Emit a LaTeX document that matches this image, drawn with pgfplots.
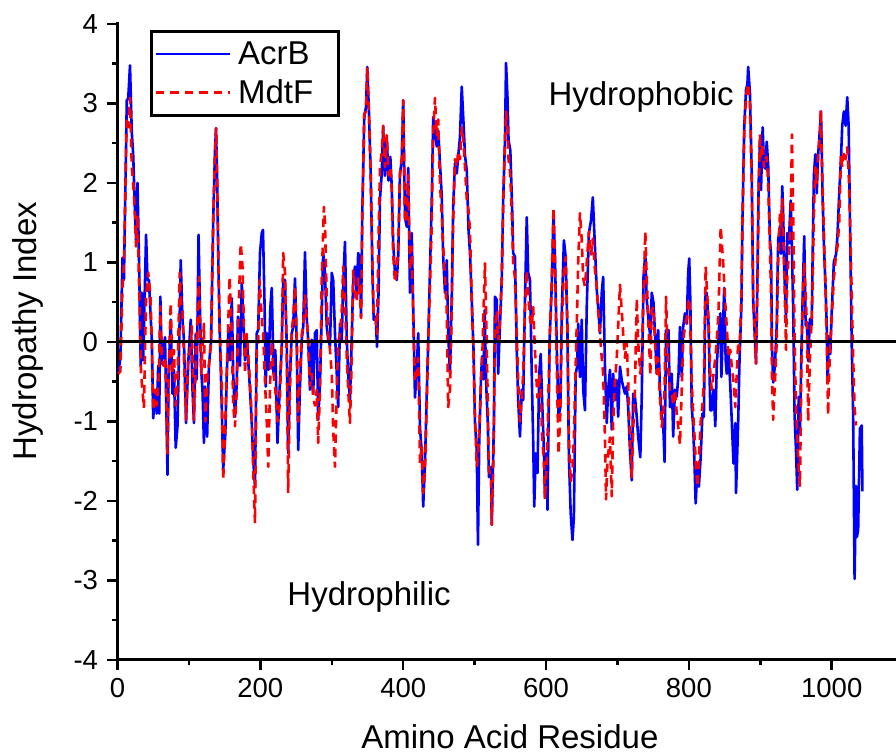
\documentclass[border=0pt]{standalone}
\usepackage{fontspec}
\setmainfont{Liberation Sans}
\usepackage{pgfplots}
\pgfplotsset{compat=1.18}
\begin{document}
\begin{tikzpicture}
\useasboundingbox (-117.5pt,-94pt) rectangle (778.5pt,660pt);
\begin{axis}[
  at={(0pt,0pt)}, anchor=south west,
  scale only axis, width=778.5pt, height=636pt,
  xmin=0, xmax=1090, ymin=-4, ymax=4,
  enlargelimits=false,
  axis x line*=bottom, axis y line*=left,
  axis line style={line width=3pt, line cap=rect},
  xtick={0,200,...,1000}, ytick={-4,-3,...,4},
  minor x tick num=1, minor y tick num=1,
  tick align=outside,
  major tick length=10pt, minor tick length=5pt,
  every tick/.style={black, line width=2.5pt},
  /pgf/number format/assume math mode=true,
  /pgf/number format/1000 sep={},
  tick label style={font=\fontsize{27.5}{32}\selectfont},
  xticklabel style={yshift=-5pt},
  yticklabel style={xshift=-6pt},
  label style={font=\fontsize{33}{40}\selectfont},
  xlabel={Amino Acid Residue},
  ylabel={Hydropathy Index},
  xlabel style={at={(axis description cs:0.504,-0.139)}, anchor=base},
  ylabel style={at={(axis description cs:-0.115,0.517)}, anchor=center},
  legend style={at={(axis description cs:0.0417,0.99)}, anchor=north west,
    draw=black, line width=3pt, font=\fontsize{33}{40}\selectfont,
    inner xsep=3pt, inner ysep=8pt, row sep=10pt, column sep=5pt,
    nodes={inner sep=2pt}},
  legend cell align=left,
  legend image code/.code={\draw[#1] (0pt,0pt) -- (74pt,0pt);},
]
\addplot[blue, line width=2.6pt, line join=round] table[x=x,y=y] {
x y
1 -0.40
4 -0.20
7 1.06
9 0.78
13 3.04
15 3.06
17.5 3.48
20 2.64
22 2.35
24.5 1.62
26 1.28
28 2.00
30.5 0.87
32.5 -0.31
34 0.62
36 -0.23
40 1.35
42 0.78
44 0.78
48 0.03
50 -0.96
52.5 -0.65
55 -0.90
57 -0.30
58.5 -0.90
60 0.57
62 -0.27
64.5 -0.10
66.5 0.06
68 -0.65
70 -1.67
71.5 -0.40
74.5 0.28
77 -0.65
79 -0.35
81.5 -1.33
84 -1.06
86.5 0.03
88.5 1.03
91 0.28
93 0.03
96 -1.02
99 -0.27
102.5 0.28
105 -0.60
107 -1.02
109.5 0.10
111 -0.47
113.5 1.35
115 0.62
117.5 -0.40
119 -0.60
121 -1.27
122.5 -0.56
125.5 -1.19
128 -0.30
131 0.01
134 1.53
136.5 2.41
138 2.69
139.5 2.03
141.5 0.85
143 0.18
146 -0.82
148 -1.61
151 -1.15
153 -0.40
155.5 0.18
157.5 -0.23
160 0.55
162 -0.40
164.5 -0.94
167 -0.52
168.5 0.32
171.5 -0.30
174 0.74
176 0.32
178.5 -0.23
181 0.06
183 -0.23
185.5 -0.60
188 -1.02
190 -1.48
192.5 -1.82
195 0.11
197 0.15
199.5 1.12
202 1.37
203.7 1.41
206 0.43
207.5 -0.56
209.5 0.11
211.5 -0.35
214 0.43
216 0.68
218.5 -0.40
221 -0.10
224 -1.27
227 -0.60
230 -0.05
232 0.78
234.5 0.78
237 -0.05
239 -1.40
241.5 -0.40
244 0.11
246 0.19
248.5 0.80
251 -0.05
253 -1.36
255.5 -0.56
258 0.03
260 0.19
262.5 1.13
265 0.28
267 0.03
269.5 -0.60
272 0.03
274 -0.65
276.5 0.11
279 0.15
281 -0.98
283.5 -0.52
286 0.36
288 1.12
290.5 0.87
293 0.19
295 0.03
297.5 -0.05
300 0.87
302 0.78
304.5 0.11
307 -0.40
309 -0.82
311.5 0.23
314 0.03
316 0.74
318.5 1.26
321 0.03
323 -0.40
325.5 -0.73
328 0.06
330 0.78
332.5 0.95
335 0.62
337 1.12
339.5 1.03
341 0.32
342.7 1.62
345.5 2.83
348 2.96
349.7 3.46
352 2.92
354.5 2.12
357 0.87
358.7 0.28
361.5 0.32
363.3 -0.06
365.5 0.62
367.5 1.80
370 2.12
372 2.71
374.5 2.09
377 2.58
379.5 2.03
382 2.33
384 1.95
386 1.24
388.5 0.87
391 0.78
393 1.07
395.5 2.12
398 2.28
400 3.04
402.5 1.57
405 1.45
407 2.19
409.5 0.62
412 1.37
414 0.44
416.5 -0.70
419 -0.35
421 0.11
423.5 -1.07
426 -1.40
428 -2.07
430.5 -1.53
433 -0.65
435 -0.02
437.5 0.90
440 1.79
442 2.83
444.5 2.62
447 2.46
449 2.66
451.5 2.25
454 1.83
456 1.07
458.5 0.62
461 1.03
463 0.11
465.5 -0.40
468 0.57
470 1.70
472.5 2.25
475 2.12
477 2.33
479.5 2.58
482 3.21
484.5 2.75
486.5 2.35
489 2.16
491.5 1.41
493.5 1.12
496 0.53
498.5 -0.10
500.5 -1.02
503 -1.36
504.7 -2.55
506.5 -1.23
509 -0.44
510.5 -0.18
512.5 -0.47
514 0.40
516.5 -0.60
518.5 -1.02
520 -1.70
523 -1.57
524 -2.30
527 -1.02
528.5 0.57
531 0.53
533 -0.40
534.5 -0.02
538 0.78
540 1.79
542.5 2.54
544 3.51
546 3.08
547.5 2.54
550 2.41
552.5 1.70
554 1.12
556.5 1.07
559 -0.10
561 -0.73
563.5 -1.19
566 -0.60
568 -0.73
570.5 0.53
573 1.57
575 0.87
577.5 0.78
580 -0.40
582 -1.23
583.5 -2.07
585.5 -1.40
588 -1.65
590.5 -0.40
592.5 -0.15
594.5 -0.73
597 -1.36
598.5 -1.95
601 -1.40
602 -2.11
605 0.03
608 0.70
610.5 1.62
612.5 1.07
615 -0.05
617.5 -0.94
620 -0.82
622 0.36
625 1.28
627.5 1.07
630 0.11
632 -1.45
634.5 -2.15
637 -2.49
639 -2.20
641.5 -0.40
643.5 -0.31
645 0.23
647.5 -0.44
650 0.28
652 -0.60
654.5 -0.86
657 0.44
660 1.37
663 1.53
665.5 1.82
668.5 1.19
671 0.66
673 0.44
675.5 0.11
678 0.62
680 0.82
682.5 -0.31
685 -1.02
687 -0.60
689.5 -0.35
692 -1.10
694 -0.40
696.5 -0.73
699 -0.48
701 -0.94
703.5 -0.31
706 -0.48
708 -0.56
710.5 -0.65
713 -0.56
715 -0.82
717.5 -1.36
720 -1.74
722 -0.65
724.5 -0.69
727 -0.94
729 -1.19
732 -1.45
734 -0.69
736.5 0.82
739 1.11
741 0.53
743.5 0.28
746 0.06
748 0.62
750.5 0.49
752.5 0.11
755 -0.40
757 0.15
759.5 -0.60
762 -0.94
764 -1.02
766 -1.51
768 0.15
769.5 -0.05
771.5 0.15
773.5 -0.82
776 -0.40
778 -1.19
780.5 -0.60
783 -0.69
785.5 -0.40
787.5 0.19
790 -0.44
792 0.19
794.5 0.36
797 0.23
799 0.87
800.5 1.05
802 0.53
804 -0.82
806 -1.06
808 -1.57
809.5 -2.03
812 -1.57
814 -1.82
816.5 -1.45
819 -0.90
821 -0.94
823 0.57
825 0.62
827.5 0.23
830 -0.86
832 -0.86
834.5 -0.60
837 -1.06
839 -0.31
841.5 0.11
844 0.36
845.5 -0.44
847.5 0.11
849.5 0.68
851.5 -0.23
853 -0.40
855.5 -0.10
858 -0.56
860 -0.98
862.5 -1.53
865 -1.02
866 -1.90
869 -1.02
871 -0.18
873.5 0.44
875 1.53
877.5 2.71
880 3.17
882 3.25
883 3.46
885.5 3.13
888 2.12
890 0.53
892.5 0.03
894 -0.27
896 0.82
897.7 2.00
899.5 2.54
901 1.91
903.3 2.70
905 2.27
907 2.18
909 2.52
911 2.23
913.5 1.28
915 1.11
916.3 -0.02
918 -0.51
920.5 -0.29
923 0.21
925 1.28
927.5 1.46
929 1.11
930.7 1.96
932 1.64
933.5 0.92
936 0.29
937.7 1.37
940 1.24
942.5 1.78
944.3 1.15
946 0.43
948 -0.92
950 -1.37
951.7 -1.86
953.7 -0.69
955.5 -1.14
957.3 -0.24
959.3 0.57
961.5 1.33
963.5 0.21
965.3 0.25
967 -0.24
969.5 0.29
972 0.21
973.3 1.10
975 2.09
977 2.36
979 1.87
981 2.36
983.5 2.68
985 2.90
987.3 1.78
989 1.24
991.5 0.65
993 0.21
994.3 -0.51
996 0.07
998 -0.15
1000 0.38
1003 1.01
1006 1.10
1008 1.33
1010.5 1.87
1013 2.32
1014.7 2.72
1017 2.90
1019.5 2.72
1021.7 3.08
1023.7 2.72
1025.5 1.55
1028 -0.02
1030 -0.92
1032 -2.98
1034 -1.81
1035.3 -2.45
1037 -2.36
1039.5 -1.09
1042 -1.05
1043 -1.88
};
\addlegendentry{\makebox[95pt][l]{AcrB}}
\addplot[red, line width=2.6pt, line join=round, dash pattern=on 8.5pt off 6pt] table[x=x,y=y] {
x y
1 -0.40
4 -0.37
7 0.70
9 1.00
13 2.80
15 2.70
17.5 3.07
20 2.20
22 2.00
24.5 1.60
26 1.20
28 1.60
30.5 0.60
33 -0.40
37 -0.83
40 0.57
43 0.87
46 0.60
48 0.03
50 -0.86
53 -0.60
55 -0.80
58 -0.40
60 0.45
62 -0.20
64.5 -0.30
67 -0.20
70 -1.40
72 -0.30
74.5 0.49
77 -0.40
79 -0.10
81.5 -0.80
84 -0.55
87 0.87
89 0.50
91 0.40
93 -0.20
96 -0.98
99 -0.20
102 -0.10
104 0.20
107 -0.98
110 -0.20
114 0.82
117 -0.40
121 0.23
123 -1.00
126 -0.40
128 -0.30
131 0.01
134 1.50
136.5 2.40
138 2.69
139.5 2.10
141.5 0.90
143 0.18
146 -0.55
148 -1.74
151 -1.00
153 -0.40
157 0.82
160 0.10
162 -0.80
164.5 -1.06
167 -0.60
168.5 0.10
172.5 1.24
175 0.95
178.5 -0.40
181 0.10
183 -0.15
185.5 -0.50
188 -0.95
190 -1.60
192.5 -2.28
195 -0.10
197 0.00
199 0.78
202 0.30
204 0.10
207 -0.60
209.5 -1.10
211 -1.57
214 -0.40
216 0.00
218.5 -0.40
221 -0.60
224 -1.00
227 -0.80
230 0.00
232 1.12
234.5 0.87
237 -0.20
239 -1.90
241.5 -0.60
244 0.15
246 0.30
248.5 0.70
251 0.10
253 -1.00
255.5 -0.40
258 0.10
260 0.20
262.5 0.60
265 0.30
267 0.00
269.5 -0.55
272 -0.40
274 -0.70
276.5 -0.80
279 -0.60
281 -1.27
283.5 -0.60
286 0.80
289 1.70
290.5 1.50
293 0.50
295 0.10
297.5 -0.10
300 -0.40
302 -1.10
304.5 -1.57
307 -0.60
309 0.00
311.5 0.10
314 0.40
316 0.95
318.5 0.50
321 -0.20
323 -0.60
325.5 -1.02
328 -0.20
330 0.91
332.5 0.60
335 0.50
337 0.80
339.5 0.60
341 0.30
342.7 1.50
345.5 2.87
348 2.90
349.7 3.46
352 2.90
354.5 2.12
357 0.90
358.7 0.32
361.5 0.30
363.3 0.10
365.5 1.30
367.5 2.20
370 2.40
372 2.72
374.5 2.20
377 2.60
379.5 2.10
382 2.20
384 1.90
386 1.10
388.5 0.75
391 0.90
393 1.20
395.5 2.10
398 2.30
400 3.04
402.5 1.50
405 1.60
407 2.10
409.5 0.90
412 1.20
414 0.30
416.5 -0.50
419 -0.40
421 -0.20
423.5 -1.53
426 -1.30
428 -1.90
430.5 -1.60
433 -0.80
435 0.00
437.5 0.70
440 1.50
442 2.60
444.5 3.07
447 2.60
449 2.80
451.5 2.00
454 1.60
456 1.20
458.5 0.80
461 0.40
463 -0.82
465.5 -0.60
468 0.40
470 1.50
472.5 2.30
475 2.20
477 2.40
479.5 2.30
482 2.70
484.5 2.50
486.5 2.20
489 1.80
491.5 1.66
493.5 1.40
496 0.50
498.5 -0.20
500.5 -0.90
503 -1.57
505 -1.40
506.5 -1.10
509 -0.50
511 -0.10
512.5 0.40
514.5 0.99
516.5 0.20
518.5 -0.80
520 -1.60
523 -1.70
524 -2.30
527 -1.20
528.5 0.20
531 0.40
533 0.00
535 0.20
538 0.80
540 1.70
542.5 2.50
544 2.90
546 2.70
547.5 2.30
550 2.10
552.5 1.50
554 1.00
556.5 0.80
559 0.10
561 -0.50
563.5 -1.00
566 -0.70
568 -0.40
570.5 0.40
573 0.90
575 0.60
577.5 0.30
580 0.20
582 0.44
583.5 0.10
585.5 -0.30
588 -0.70
590.5 -0.40
592.5 -0.60
594.5 -1.20
597 -1.50
598.5 -1.98
601 -1.50
602 -1.20
605 0.00
608 0.80
610.5 1.69
612.5 1.00
615 -0.30
617.5 -1.41
620 -0.90
622 0.20
625 0.90
627.5 1.07
630 0.20
632 -1.20
634.5 -1.77
637 -1.60
639 -1.20
641.5 -0.30
643.5 0.40
645 1.00
647.5 1.62
650 1.28
652 0.80
654.5 0.70
657 1.00
660 1.39
663 1.10
665.5 1.30
668.5 0.90
671 0.70
673 0.40
675.5 0.10
678 -0.20
680 -0.40
682.5 -1.20
684 -1.98
686 -1.50
689.5 -1.20
692 -1.94
694 -1.00
696.5 -0.50
699 -0.20
701 0.20
703.5 0.72
706 0.40
708 0.10
710.5 -0.20
713 0.00
715 -0.50
717.5 -1.20
720 -1.70
722 -1.10
724.5 -0.60
727 0.55
729 0.00
732 -0.40
734 -0.20
736.5 0.60
739 1.39
741 0.80
743.5 0.20
746 -0.42
748 0.40
750.5 0.44
752.5 0.00
755 -0.40
757 -0.20
759.5 -0.70
762 -1.07
764 -0.90
766 -0.60
768 0.57
769.5 0.10
771.5 -0.40
773.5 -0.60
776 -0.60
778 -0.80
780.5 -0.60
783 -0.90
785.5 -1.10
787.5 -1.29
790 -0.60
792 0.00
794.5 0.20
797 0.30
799 0.50
800.5 0.55
802 0.20
804 -0.50
806 -0.90
808 -1.20
810 -1.60
812 -1.82
814 -1.50
816.5 -1.00
819 -0.80
821 -0.50
823.5 0.95
825 0.70
827.5 0.30
830 -0.40
832 -0.60
834.5 -0.40
837 -0.20
839 0.00
841.5 0.40
844.5 1.45
846.5 1.20
848 1.00
851.5 0.40
853 0.20
855.5 -0.20
858 -0.10
860 -0.30
862.5 -0.50
865 -0.82
867 -0.40
869 0.00
871 -0.10
873.5 0.60
875 1.50
877.5 2.60
880 3.10
882 3.20
883 3.25
885.5 3.00
888 2.00
890 0.60
892.5 0.10
894 -0.27
896 0.70
897.7 1.80
899.5 2.62
901 2.30
903.3 2.50
905 2.20
907 2.30
909 2.33
911 2.00
913.5 1.20
915 0.60
916.3 -0.40
918 -0.98
920.5 -0.50
923 0.00
925 1.00
927.5 1.62
929 1.40
930.7 1.80
932 1.40
933.5 0.90
936 -0.10
937.7 0.80
940 1.10
942.5 1.50
944.3 2.61
946 1.60
948 0.00
950 -0.80
951.7 -1.20
953.7 -1.60
955.5 -1.81
957.3 -0.50
959.3 0.50
961.5 1.00
963.5 0.60
965.3 0.20
967 -1.00
969.5 -0.20
972 0.30
973.3 0.70
975 1.60
977 2.20
979 2.00
981 2.36
983.5 2.60
984.5 2.92
987.3 1.90
989 1.40
991.5 0.60
993 0.00
995 -0.92
996 -0.50
998 0.00
1000 0.30
1003 0.80
1006 1.10
1008 1.20
1010.5 1.50
1013 2.36
1014.7 2.20
1017 2.40
1019.5 2.30
1021.7 2.45
1023.7 2.13
1025.5 1.60
1028 0.60
1030 -0.20
1032 -0.83
1034 -1.05
};
\addlegendentry{\makebox[95pt][l]{MdtF}}
\addplot[black, line width=3pt, forget plot] coordinates {(0,0) (1090,0)};
\node[anchor=base west, font=\fontsize{33}{40}\selectfont] at (axis cs:598.5,2.975) {Hydrophobic};
\node[anchor=base west, font=\fontsize{33}{40}\selectfont] at (axis cs:233,-3.31) {Hydrophilic};
\end{axis}
\end{tikzpicture}
\end{document}
